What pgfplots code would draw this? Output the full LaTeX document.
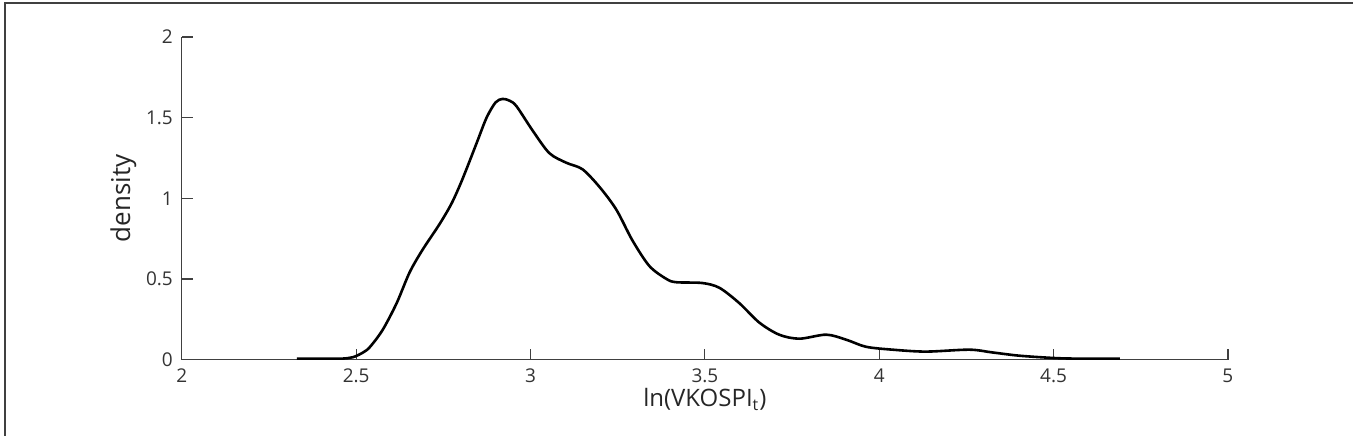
\documentclass[border=0pt]{standalone}
\usepackage{fontspec}
\setmainfont{Open Sans}
\usepackage{pgfplots}
\pgfplotsset{compat=1.18}
\begin{document}
\begin{tikzpicture}[x=1pt,y=1pt]
\path (0,0) rectangle (677,218);
\draw[line width=1.2pt, black!75] (2.5,0) -- (2.5,216.5) -- (677,216.5);
\begin{axis}[
  at={(91pt,38pt)}, anchor=south west,
  scale only axis, width=523.5pt, height=161.5pt,
  xmin=2, xmax=5, ymin=0, ymax=2,
  axis x line*=bottom, axis y line*=left,
  axis line style={black!75, line width=0.6pt},
  tick style={black!75, line width=0.6pt},
  tick align=inside, major tick length=5.5pt,
  xtick={2,2.5,3,3.5,4,4.5,5},
  ytick={0,0.5,1,1.5,2},
  /pgf/number format/assume math mode=true,
  tick label style={font=\fontsize{9.5}{11}\selectfont, text=black!80},
  xticklabel style={yshift=-1pt},
  yticklabel style={xshift=-1pt},
  xlabel={ln(VKOSPI$_{\mathrm{t}}$)},
  ylabel={density},
  label style={font=\fontsize{12}{14}\selectfont, text=black!85},
  ylabel style={font=\fontsize{13}{15}\selectfont, yshift=-2pt},
  xlabel style={yshift=4pt},
]
\addplot[black, line width=1.3pt, smooth, tension=0.5] coordinates {
(2.33,0.006) (2.45,0.006) (2.49,0.015) (2.52,0.045) (2.54,0.08)
(2.576,0.185) (2.616,0.35) (2.653,0.54) (2.69,0.68) (2.739,0.84)
(2.774,0.97) (2.805,1.12) (2.845,1.34) (2.874,1.50) (2.90,1.595)
(2.920,1.616) (2.94,1.605) (2.96,1.57) (3.006,1.42) (3.054,1.28)
(3.103,1.22) (3.149,1.18) (3.198,1.07) (3.246,0.93) (3.292,0.74)
(3.341,0.58) (3.39,0.50) (3.418,0.48) (3.493,0.475) (3.542,0.445)
(3.599,0.35) (3.656,0.23) (3.713,0.155) (3.771,0.13) (3.848,0.155)
(3.905,0.124) (3.962,0.08) (4.038,0.062) (4.134,0.05) (4.258,0.062)
(4.324,0.045) (4.40,0.025) (4.487,0.012) (4.55,0.007) (4.69,0.006)
};
\end{axis}
\end{tikzpicture}
\end{document}
